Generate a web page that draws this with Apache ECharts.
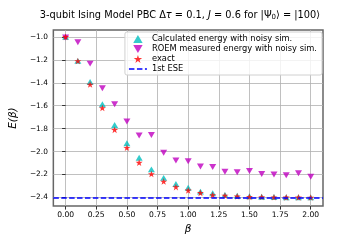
<!DOCTYPE html>
<html>
<head>
<meta charset="utf-8">
<script src="https://cdn.jsdelivr.net/npm/echarts@6/dist/echarts.min.js"></script>
<style>html,body{margin:0;padding:0;background:#fff;}#c{width:360px;height:240px;}</style>
</head>
<body>
<div id="c"></div>
<script>
const betas = [0.0,0.1,0.2,0.3,0.4,0.5,0.6,0.7,0.8,0.9,1.0,1.1,1.2,1.3,1.4,1.5,1.6,1.7,1.8,1.9,2.0];
const calculated = [-1.0,-1.209,-1.393,-1.588,-1.768,-1.928,-2.053,-2.155,-2.229,-2.283,-2.315,-2.349,-2.363,-2.377,-2.385,-2.390,-2.393,-2.395,-2.397,-2.398,-2.399];
const roem = [-1.006,-1.046,-1.233,-1.448,-1.587,-1.737,-1.860,-1.856,-2.010,-2.078,-2.084,-2.130,-2.135,-2.175,-2.180,-2.169,-2.195,-2.200,-2.206,-2.189,-2.220];
const exact = [-1.0,-1.210,-1.415,-1.620,-1.810,-1.966,-2.096,-2.195,-2.260,-2.309,-2.338,-2.360,-2.378,-2.383,-2.390,-2.394,-2.396,-2.398,-2.399,-2.399,-2.400];
const eseValue = -2.4;
const xTicks = [0.0,0.25,0.5,0.75,1.0,1.25,1.5,1.75,2.0];
const yTicks = [-2.4,-2.2,-2.0,-1.8,-1.6,-1.4,-1.2,-1.0];
const seriesNames = ['Calculated energy with noisy sim.','ROEM measured energy with noisy sim.','exact','1st ESE'];

const pair = (xs, ys) => xs.map((x, i) => [x, ys[i]]);
const minus = v => String(v).replace('-', '\u2212');
const STAR = 'path://M0,-1L0.2245,-0.309L0.951,-0.309L0.363,0.118L0.588,0.809L0,0.382L-0.588,0.809L-0.363,0.118L-0.951,-0.309L-0.2245,-0.309Z';
const DOWN = 'path://M-1,-0.8L1,-0.8L0,0.9Z';
const UP = 'path://M-1,0.8L1,0.8L0,-0.9Z';
const DASHES = 'path://M0,0h5.5v1.5h-5.5zM8,0h5.5v1.5h-5.5zM16,0h2v1.5h-2z';
const FONT = 'DejaVu Sans';

const chart = echarts.init(document.getElementById('c'), null, {renderer: 'canvas'});
chart.setOption({
  animation: false,
  backgroundColor: '#fff',
  title: {
    text: '3-qubit Ising Model PBC Δ{i|τ} = 0.1, {i|J} = 0.6 for |Ψ{s|0}⟩ = |100⟩',
    left: 'center', top: 5,
    textStyle: {fontFamily: FONT, fontSize: 9.8, fontWeight: 'normal', color: '#000',
      rich: {i: {fontFamily: FONT, fontStyle: 'italic', fontSize: 9.8}, s: {fontFamily: FONT, fontSize: 7, verticalAlign: 'bottom', padding: [4,0,0,0]}}}
  },
  grid: {left: 45, right: 37, top: 30, bottom: 30, show: true, borderColor: '#666', borderWidth: 1.5, backgroundColor: 'transparent'},
  legend: {
    data: [
      {name: seriesNames[0], icon: UP},
      {name: seriesNames[1], icon: DOWN},
      {name: seriesNames[2], icon: STAR},
      {name: seriesNames[3], icon: DASHES}
    ],
    orient: 'vertical', right: 38, top: 32, align: 'left',
    itemWidth: 18, itemHeight: 8, itemGap: 2, padding: [3, 5, 2, 4],
    backgroundColor: 'rgba(255,255,255,0.8)', borderColor: '#d0d0d0', borderWidth: 1, borderRadius: 2,
    textStyle: {fontFamily: FONT, fontSize: 8.3, color: '#000'},
    symbolKeepAspect: true
  },
  xAxis: {
    type: 'value', min: -0.1, max: 2.1,
    name: 'β', nameLocation: 'middle', nameGap: 17,
    nameTextStyle: {fontFamily: FONT, fontSize: 10.5, fontStyle: 'italic', color: '#000'},
    axisLine: {show: false},
    axisTick: {show: true, inside: false, length: 3.5, customValues: xTicks, lineStyle: {color: '#333', width: 1}},
    axisLabel: {customValues: xTicks, margin: 5, fontFamily: FONT, fontSize: 7.6, color: '#000', formatter: v => v.toFixed(2)},
    splitLine: {show: true, lineStyle: {color: '#b0b0b0', width: 0.8}}
  },
  yAxis: {
    type: 'value', min: -2.475, max: -0.94,
    name: 'E(β)', nameLocation: 'middle', nameGap: 32,
    nameTextStyle: {fontFamily: FONT, fontSize: 10.5, fontStyle: 'italic', color: '#000'},
    axisLine: {show: false},
    axisTick: {show: true, inside: false, length: 3.5, customValues: yTicks, lineStyle: {color: '#333', width: 1}},
    axisLabel: {customValues: yTicks, margin: 5.5, fontFamily: FONT, fontSize: 7.4, color: '#000', formatter: v => minus(v.toFixed(1))},
    splitLine: {show: true, lineStyle: {color: '#b0b0b0', width: 0.8}}
  },
  series: [
    {name: seriesNames[0], type: 'scatter', data: pair(betas, calculated), symbol: UP, symbolSize: 7, symbolKeepAspect: true, itemStyle: {color: '#00bfbf'}, z: 2},
    {name: seriesNames[1], type: 'scatter', data: pair(betas, roem), symbol: DOWN, symbolSize: 7, symbolKeepAspect: true, itemStyle: {color: '#bf00bf'}, z: 3},
    {name: seriesNames[2], type: 'scatter', data: pair(betas, exact), symbol: STAR, symbolSize: 7, symbolKeepAspect: true, itemStyle: {color: '#ff0000'}, z: 4},
    {name: seriesNames[3], type: 'line', data: [], symbol: 'none', itemStyle: {color: '#0000ff'},
      lineStyle: {color: '#0000ff', width: 1.5, type: [5.5, 2.4]}, z: 5,
      markLine: {silent: true, symbol: ['none','none'], label: {show: false}, z: 5,
        lineStyle: {color: '#0000ff', width: 1.5, type: [5.5, 2.4]}, data: [{yAxis: eseValue}]}}
  ]
});
</script>
</body>
</html>
